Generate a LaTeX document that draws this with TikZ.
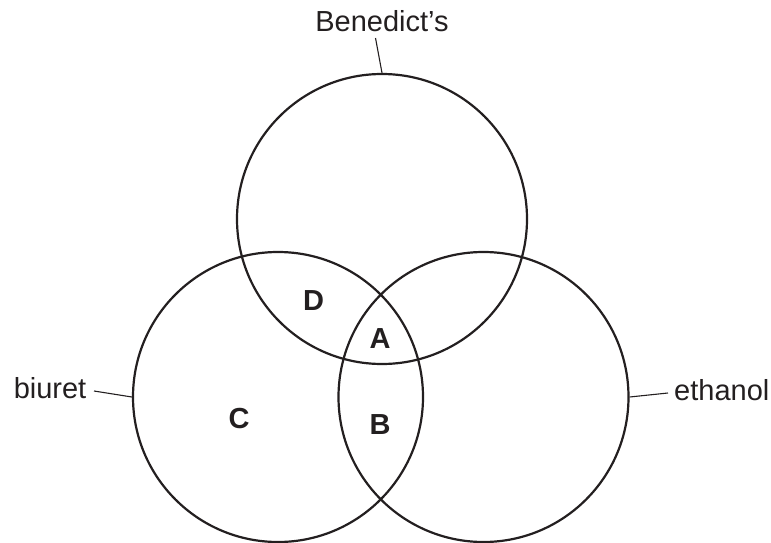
\documentclass[tikz,border=0pt]{standalone}
\usepackage{fontspec}
\setmainfont{Liberation Sans}
\definecolor{ink}{RGB}{35,31,32}
\begin{document}
\begin{tikzpicture}[x=1pt,y=-1pt,
  setcircle/.style={draw=ink,line width=2.2pt,circle,minimum size=290pt,inner sep=0pt},
  lbl/.style={text=ink,font=\fontsize{29}{34}\selectfont,inner sep=0pt},
  region/.style={text=ink,font=\fontsize{29}{34}\selectfont\bfseries,inner sep=0pt,anchor=base},
  lead/.style={draw=ink,line width=1.1pt}]
\useasboundingbox (0,0) rectangle (771,543);
\node[setcircle] (top) at (382,219) {};
\node[setcircle] (left) at (278,397) {};
\node[setcircle] (right) at (483.5,397) {};
\node[lbl,anchor=base] (lbBen) at (382,32) {Benedict’s};
\node[lbl,anchor=base east] (lbBiu) at (86.5,398) {biuret};
\node[lbl,anchor=base west] (lbEth) at (674,400) {ethanol};
\coordinate (benEnd) at (375.5,38);
\coordinate (biuEnd) at (94,391);
\coordinate (ethEnd) at (668,393);
\draw[lead] (benEnd) -- (top.north);
\draw[lead] (biuEnd) -- (left.west);
\draw[lead] (ethEnd) -- (right.east);
\node[region] (rA) at (380,348) {A};
\node[region] (rB) at (380,434) {B};
\node[region] (rC) at (239,428) {C};
\node[region] (rD) at (313.5,310) {D};
\end{tikzpicture}
\end{document}
